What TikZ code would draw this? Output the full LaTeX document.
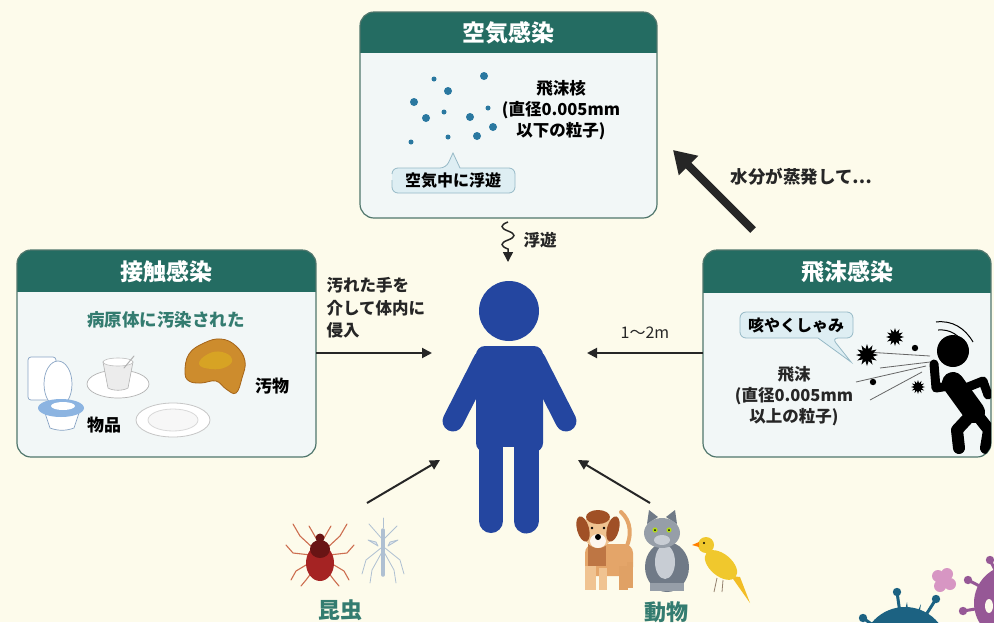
\documentclass[tikz,border=0pt]{standalone}
\usepackage{fontspec}
\setmainfont{Noto Sans CJK JP}
\usetikzlibrary{arrows.meta,shapes.geometric}

\definecolor{paper}{RGB}{253,251,235}
\definecolor{headteal}{RGB}{36,108,98}
\definecolor{boxbody}{RGB}{242,247,247}
\definecolor{boxline}{RGB}{80,118,108}
\definecolor{tealtext}{RGB}{52,124,112}
\definecolor{ink}{RGB}{38,38,38}
\definecolor{dotblue}{RGB}{42,120,160}
\definecolor{calloutfill}{RGB}{222,238,243}
\definecolor{calloutline}{RGB}{150,185,198}
\definecolor{figblue}{RGB}{36,70,160}
\definecolor{filth}{RGB}{205,140,45}
\definecolor{filthdark}{RGB}{165,100,25}
\definecolor{seatblue}{RGB}{140,180,225}
\definecolor{tickred}{RGB}{165,35,35}
\definecolor{tickdark}{RGB}{105,20,20}
\definecolor{tickleg}{RGB}{205,110,80}
\definecolor{mosq}{RGB}{175,192,210}
\definecolor{dogtan}{RGB}{228,165,105}
\definecolor{doglight}{RGB}{240,195,145}
\definecolor{dogbrown}{RGB}{160,80,38}
\definecolor{catgray}{RGB}{150,158,168}
\definecolor{catdark}{RGB}{112,122,135}
\definecolor{catlight}{RGB}{200,205,212}
\definecolor{canary}{RGB}{240,200,45}
\definecolor{virusteal}{RGB}{28,98,130}
\definecolor{viruspurple}{RGB}{150,88,150}
\definecolor{viruspink}{RGB}{215,150,195}

\begin{document}
\begin{tikzpicture}[x=1pt,y=-1pt,
  headtext/.style={text=white, font=\fontsize{23}{26}\selectfont\bfseries},
  bodytext/.style={text=black, font=\fontsize{16.5}{21}\selectfont\bfseries, align=center},
  sidetext/.style={text=ink, font=\fontsize{16.5}{22.5}\selectfont\bfseries, align=left},
  groupname/.style={text=tealtext, font=\fontsize{22}{24}\selectfont\bfseries},
  frame/.style={draw=boxline, line width=1.2pt, rounded corners=14pt},
  callout/.style={fill=calloutfill, draw=calloutline, line width=0.8pt},
  flow/.style={draw=ink, line width=2pt, -{Triangle[length=10pt,width=10pt]}},
  bigflow/.style={draw=ink, line width=8pt, -{Triangle[length=22pt,width=26pt]}},
  dot/.style={fill=dotblue, circle, inner sep=0pt},
  splat/.style={star, star points=12, star point ratio=1.8, fill=black, inner sep=0pt},
  spray/.style={draw=gray!80!black, line width=0.8pt},
  limb/.style={line cap=round, line join=round},
]
\useasboundingbox (0,0) rectangle (994,622);
\fill[paper] (0,0) rectangle (994,622);

% ---------- three route boxes ----------
\foreach \l/\t/\r/\b/\h in {360/12/657/218/53, 17/250/316/457/292, 703/250/991/457/293}{
  \begin{scope}
    \clip[rounded corners=14pt] (\l,\t) rectangle (\r,\b);
    \fill[boxbody] (\l,\t) rectangle (\r,\b);
    \fill[headteal] (\l,\t) rectangle (\r,\h);
  \end{scope}
  \draw[frame] (\l,\t) rectangle (\r,\b);
}
\node[headtext] (airhead) at (508,33) {空気感染};
\node[headtext] (touchhead) at (166,272) {接触感染};
\node[headtext] (drophead) at (847,272) {飛沫感染};
\coordinate (airbox) at (508,218);
\coordinate (touchbox) at (316,353);
\coordinate (dropbox) at (703,353);
\coordinate (dropcorner) at (753,230);

% ---------- airborne: droplet nuclei ----------
\foreach \x/\y/\s in {434/79/5, 484/76/8, 448/91/8, 414/102/8, 444/112/5,
  488/108/5, 426/118/8, 470/117/8, 493/127/8, 411/142/5, 448/137/5, 477/136/8}
  \node[dot, minimum size=\s pt] at (\x,\y) {};
\node[bodytext] (nuclei) at (561,110) {飛沫核\\(直径0.005mm\\以下の粒子)};
\draw[callout] (392,174) [rounded corners=6pt] -- (392,168) -- (446,168)
  [sharp corners] -- (453,153) -- (460,168) [rounded corners=6pt]
  -- (515,168) -- (515,193) -- (392,193) -- (392,180);
\node[font=\fontsize{16}{18}\selectfont\bfseries] (floating) at (453,181) {空気中に浮遊};

% ---------- contact: contaminated things ----------
\node[font=\fontsize{17.5}{20}\selectfont\bfseries, text=tealtext] (germs) at (166,320) {病原体に汚染された};
% toilet
\draw[seatblue!70!gray, line width=0.7pt, fill=white, rounded corners=3pt] (28,357) rectangle (56,400);
\draw[seatblue!70!gray, line width=0.7pt, fill=white] (58,384) ellipse [x radius=14, y radius=23];
\draw[seatblue!70!gray, line width=0.7pt, fill=white] (44,410) -- (50,428) .. controls (58,431) and (66,431) .. (74,428) -- (80,410) -- cycle;
\fill[seatblue] (61,408) ellipse [x radius=23, y radius=9];
\fill[white] (63,406) ellipse [x radius=12, y radius=4];
% cup and saucer
\draw[gray!60, line width=0.7pt, fill=white] (118,384) ellipse [x radius=31, y radius=14];
\draw[gray!60, line width=0.6pt, fill=gray!15] (103,362) -- (133,362) -- (128,388) .. controls (123,391) and (113,391) .. (108,388) -- cycle;
\draw[gray!50, line width=0.6pt, fill=white] (118,362) ellipse [x radius=15, y radius=4];
\draw[gray!60, line width=1pt, line cap=round] (124,368) -- (134,356);
% plate
\draw[gray!45, line width=0.8pt, fill=white] (173,420) ellipse [x radius=37, y radius=17];
\draw[gray!30, line width=0.8pt, fill=gray!6] (173,420) ellipse [x radius=25, y radius=11];
% filth
\draw[filthdark, line width=0.8pt, fill=filth] plot[smooth cycle, tension=0.7] coordinates
  {(185,372) (189,354) (204,343) (221,339) (236,346) (245,361) (242,378) (236,393) (226,389) (216,381) (201,383) (189,381)};
\fill[filth!80!yellow] plot[smooth cycle, tension=0.8] coordinates
  {(199,364) (208,354) (222,352) (232,359) (226,367) (211,369)};
\node[font=\fontsize{17}{20}\selectfont\bfseries] (filthlabel) at (272,386) {汚物};
\node[font=\fontsize{17}{20}\selectfont\bfseries] (itemlabel) at (104,425) {物品};

% ---------- droplet: coughing figure ----------
\begin{scope}
  \clip[rounded corners=14pt] (703,293) rectangle (991,457);
  \draw[spray] (930,356) -- (866,352);
  \draw[spray] (926,366) -- (856,382);
  \draw[spray] (922,372) -- (870,400);
  \draw[spray] (930,362) -- (880,368);
  \draw[black, line width=1pt] (936,322) .. controls (952,320) and (965,328) .. (973,342);
  \draw[black, line width=1pt] (938,330) .. controls (950,329) and (959,335) .. (964,344);
  \fill[black] (953,351) circle (16);
  \draw[black, limb, line width=22pt] (953,383) -- (974,412);
  \draw[black, limb, line width=9pt] (949,386) -- (936,388) -- (934,364);
  \draw[black, limb, line width=9pt] (963,389) -- (983,381) -- (988,395);
  \draw[black, limb, line width=12pt] (970,416) -- (957,430) -- (959,448);
  \draw[black, limb, line width=12pt] (978,416) -- (989,430) -- (986,448);
  \node[splat, minimum size=22pt] at (867,355) {};
  \node[splat, minimum size=18pt] at (895,337) {};
  \node[splat, minimum size=14pt] at (918,387) {};
  \fill[black] (915,348) circle (3.2);
  \fill[black] (873,382) circle (3.2);
\end{scope}
\draw[callout] (740,325) [rounded corners=6pt] -- (740,312) -- (853,312) -- (853,338)
  -- (832,338) [sharp corners] -- (851,362) -- (818,338) [rounded corners=6pt]
  -- (740,338) -- (740,325);
\node[font=\fontsize{16}{18}\selectfont\bfseries] (cough) at (796,325) {咳やくしゃみ};
\node[bodytext, text=ink] (droplets) at (794,396) {飛沫\\(直径0.005mm\\以上の粒子)};

% ---------- the person in the middle ----------
\begin{scope}[figblue]
  \fill (509,311) circle (30);
  \fill[rounded corners=9pt] (476,346) rectangle (543,452);
  \draw[limb, line width=21pt] (484,360) -- (453,421);
  \draw[limb, line width=21pt] (535,360) -- (566,421);
  \draw[limb, line width=24pt] (491,440) -- (491,521);
  \draw[limb, line width=25pt] (526,440) -- (526,521);
  \fill[paper] (503,447) rectangle (514,535);
\end{scope}
\coordinate (personleft) at (432,353);
\coordinate (personright) at (587,353);
\coordinate (persontop) at (508,262);
\coordinate (personlowleft) at (440,460);
\coordinate (personlowright) at (578,460);
\coordinate (airtarget) at (673,150);

% ---------- routes into the person ----------
\draw[flow] (touchbox) -- (personleft);
\draw[flow] (dropbox) -- (personright);
\draw[flow, line width=1.5pt] (airbox) ++(0,4) .. controls +(-8,3) and +(-8,-3) .. ++(0,9)
  .. controls +(8,3) and +(8,-3) .. ++(0,9) .. controls +(-8,3) and +(-8,-3) .. ++(0,9)
  -- (persontop);
\node[font=\fontsize{16.5}{20}\selectfont\bfseries, text=ink] (floatlabel) at (540,240) {浮遊};
\node[sidetext, anchor=west] (handlabel) at (323,308) {汚れた手を\\介して体内に\\侵入};
\node[font=\fontsize{16}{20}\selectfont, text=ink] (distance) at (645,333) {1〜2m};
\draw[bigflow] (dropcorner) -- (airtarget);
\node[font=\fontsize{17.5}{20}\selectfont\bfseries, text=ink, anchor=west] (evaporate) at (727,177) {水分が蒸発して…};
\coordinate (insectroute) at (367,503);
\coordinate (animalroute) at (650,503);
\draw[flow] (insectroute) -- (personlowleft);
\draw[flow] (animalroute) -- (personlowright);

% ---------- insects ----------
\begin{scope}[tickleg, line width=1.1pt, limb]
  \draw (313,548) -- (300,536) -- (293,524);
  \draw (311,555) -- (293,553) -- (286,545);
  \draw (311,562) -- (296,571) -- (291,580);
  \draw (315,568) -- (306,580) -- (301,586);
  \draw (327,548) -- (340,536) -- (347,524);
  \draw (329,555) -- (347,553) -- (354,545);
  \draw (329,562) -- (344,571) -- (349,580);
  \draw (325,568) -- (334,580) -- (339,586);
  \draw (316,538) -- (309,526);
  \draw (324,538) -- (331,526);
\end{scope}
\fill[tickred] (320,563) ellipse [x radius=14, y radius=18];
\fill[tickdark] (320,549) ellipse [x radius=10, y radius=9];
\fill[tickdark] (320,538) circle (4.5);
\begin{scope}[mosq, line width=0.8pt, limb]
  \draw (383,540) -- (369,524); \draw (383,540) -- (397,526);
  \draw (381,548) -- (366,560) -- (362,574); \draw (385,548) -- (400,560) -- (404,574);
  \draw (382,552) -- (372,570) -- (370,583); \draw (384,552) -- (394,570) -- (396,583);
  \draw (383,528) -- (383,518);
  \draw[fill=mosq!40] (378,546) -- (368,540) -- (376,542) -- cycle;
  \draw[fill=mosq!40] (388,546) -- (398,540) -- (390,542) -- cycle;
  \draw[line width=3.5pt] (383,530) -- (383,575);
\end{scope}
\node[groupname] (insects) at (340,610) {昆虫};

% ---------- animals ----------
% dog
\draw[dogtan, line width=4pt, limb] (624,552) .. controls (633,536) and (631,521) .. (621,512);
\fill[dogtan, rounded corners=9pt] (585,544) rectangle (633,576);
\fill[dogbrown!55!dogtan] (588,544) rectangle (606,566);
\fill[doglight] (585,566) rectangle (596,590);
\fill[doglight] (599,568) rectangle (607,590);
\fill[dogtan!90!brown] (619,566) rectangle (628,590);
\fill[dogtan!90!brown] (627,562) rectangle (633,588);
\fill[doglight] (598,530) ellipse [x radius=15, y radius=18];
\fill[dogbrown] (598,517) ellipse [x radius=12, y radius=7];
\fill[dogbrown, rotate around={15:(583,529)}] (583,529) ellipse [x radius=6, y radius=13];
\fill[dogbrown, rotate around={-15:(613,529)}] (613,529) ellipse [x radius=6, y radius=13];
\fill[white!85!doglight] (598,541) ellipse [x radius=8, y radius=7];
\fill[black] (598,537) circle (3);
\fill[black] (592,528) circle (1.3);
\fill[black] (604,528) circle (1.3);
% cat
\fill[catdark] (667,567) ellipse [x radius=22, y radius=25];
\fill[catlight] (665,562) ellipse [x radius=10, y radius=17];
\fill[catgray] (650,583) rectangle (684,591);
\fill[catdark] (647,524) -- (649,510) -- (658,517) -- cycle;
\fill[catdark] (677,524) -- (675,510) -- (666,517) -- cycle;
\fill[catgray] (662,533) ellipse [x radius=18, y radius=15];
\fill[catlight] (662,540) ellipse [x radius=8, y radius=5];
\fill[yellow!70!green] (655,530) circle (2.6);
\fill[yellow!70!green] (669,530) circle (2.6);
\fill[black] (655,530) circle (1);
\fill[black] (669,530) circle (1);
% canary
\fill[canary!85!orange] (731,576) -- (750,603) -- (740,577) -- cycle;
\fill[canary, rotate around={-40:(721,565)}] (721,565) ellipse [x radius=19, y radius=11];
\fill[canary] (706,545) circle (8);
\fill[orange] (699,542) -- (692,545) -- (699,547) -- cycle;
\fill[black] (704,543) circle (1.1);
\draw[gray!70!brown, line width=0.8pt] (717,578) -- (714,592) (723,580) -- (722,592);
\node[groupname] (animals) at (666,612) {動物};

% ---------- corner decoration ----------
\begin{scope}
  \foreach \x/\y in {897/592, 936/599, 863/618}{
    \draw[virusteal, line width=3pt] (905,648) -- (\x,\y);
    \fill[virusteal] (\x,\y) circle (4.2);
  }
  \fill[virusteal] (915,660) -- (907,602) -- (898,640) -- cycle;
  \fill[virusteal] (900,650) -- (921,604) -- (915,640) -- cycle;
  \fill[virusteal] (905,650) circle (43);
  \fill[viruspink] (938,576) circle (6) (947,574) circle (6) (950,584) circle (6) (940,586) circle (6) (944,580) circle (6);
  \foreach \x/\y in {968/580, 990/560, 963/611}{
    \draw[viruspurple, line width=3pt] (1012,603) -- (\x,\y);
    \fill[viruspurple] (\x,\y) circle (4.2);
  }
  \fill[viruspurple] (1012,603) circle (38);
  \fill[paper] (989,606) ellipse [x radius=4, y radius=7];
\end{scope}
\end{tikzpicture}
\end{document}
